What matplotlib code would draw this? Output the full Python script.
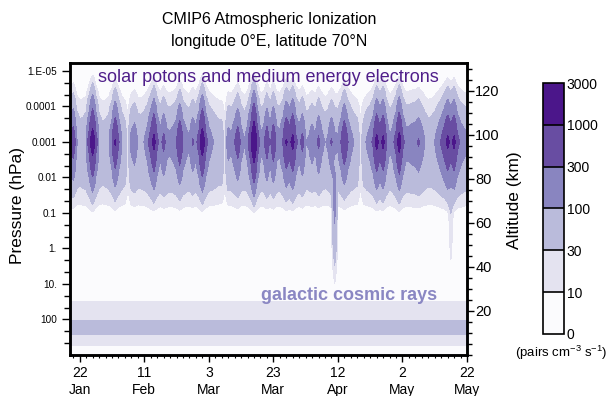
import matplotlib
matplotlib.use("Agg")
import matplotlib.pyplot as plt
import numpy as np
from matplotlib.ticker import FixedLocator, MultipleLocator

plt.rcParams["font.family"] = ["Liberation Sans", "DejaVu Sans"]

# ---- data -----------------------------------------------------------------
# day of year 19 (19 Jan) .. 142 (22 May)
days = np.arange(19, 143)

# daily peak rate of the solar-particle layer (pairs cm-3 s-1, near 0.001 hPa)
solar_peak = [
    300, 600, 80, 20, 20, 50, 500, 2000, 450, 50,         # 19-28
    10, 15, 40, 250, 1100, 300, 60, 15, 0, 120,           # 29-38
    200, 50, 30, 60, 150, 500, 1400, 350, 120, 400,       # 39-48
    120, 100, 150, 250, 900, 250, 120, 80, 300, 150,      # 49-58
    500, 2000, 450, 150, 80, 40, 20, 15, 0, 150,          # 59-68
    100, 250, 600, 150, 60, 150, 700, 3000, 600, 100,     # 69-78
    150, 600, 150, 700, 150, 120, 300, 1100, 600, 1400,   # 79-88
    350, 150, 400, 60, 80, 180, 70, 350, 120, 50,         # 89-98
    90, 300, 100, 90, 280, 900, 280, 120, 50, 25,         # 99-108
    0, 20, 80, 150, 350, 1400, 600, 1300, 300, 80,        # 109-118
    150, 450, 1600, 400, 150, 150, 180, 200, 300, 150,    # 119-128
    50, 20, 30, 60, 150, 300, 600, 1300, 700, 1300,       # 129-138
    400, 200, 130, 100,                                   # 139-142
]

# daily scaling of the medium-energy electron background
electron_scale = [
    1.0, 1.05, 0.95, 0.9, 1.0, 1.05, 1.1, 1.1, 1.0, 0.95,
    0.9, 0.95, 1.0, 1.05, 1.1, 1.05, 1.0, 0.9, 0.35, 0.95,
    1.0, 0.95, 1.0, 1.05, 1.1, 1.15, 1.15, 1.1, 1.1, 1.1,
    1.15, 1.1, 1.1, 1.15, 1.15, 1.1, 1.1, 1.05, 1.05, 1.0,
    1.05, 1.1, 1.05, 1.0, 1.0, 0.95, 0.9, 0.9, 0.35, 0.95,
    1.0, 1.05, 1.05, 1.0, 1.0, 1.05, 1.1, 1.2, 1.1, 1.05,
    1.05, 1.1, 1.05, 1.1, 1.05, 1.05, 1.1, 1.15, 1.1, 1.15,
    1.1, 1.05, 1.1, 1.0, 1.0, 1.05, 1.0, 1.05, 1.0, 0.95,
    1.0, 1.05, 1.1, 1.0, 1.05, 1.1, 1.05, 1.0, 0.95, 0.9,
    0.35, 0.9, 1.0, 1.05, 1.1, 1.15, 1.1, 1.15, 1.05, 1.0,
    1.05, 1.1, 1.15, 1.1, 1.05, 1.05, 1.1, 1.1, 1.1, 1.05,
    1.0, 0.95, 0.95, 1.0, 1.05, 1.1, 1.15, 1.2, 1.15, 1.2,
    1.1, 1.1, 1.05, 1.0,
]

# hard-spectrum events reaching the stratosphere
hard_days = [101, 137]
hard_rate = [130, 30]

# vertical levels, log10(pressure / hPa)
log_p = [-5.4, -5.2, -5.0, -4.8, -4.6, -4.4, -4.2, -4.0, -3.8, -3.6, -3.4, -3.2,
         -3.0, -2.8, -2.6, -2.4, -2.2, -2.0, -1.8, -1.6, -1.4, -1.2, -1.0, -0.8,
         -0.5, 0.0, 0.5, 0.9, 1.2, 1.4, 1.5, 1.7, 1.9, 2.05, 2.2, 2.3, 2.4,
         2.55, 2.7, 2.85, 3.0]
solar_profile = [0, 0, .002, .007, .018, .038, .07, .12, .19, .3, .47, .7,
                 1.0, .7, .47, .3, .19, .12, .07, .038, .018, .007, .002, 0,
                 0, 0, 0, 0, 0, 0, 0, 0, 0, 0, 0, 0, 0, 0, 0, 0, 0]
electron_profile = [0, 0, 0, 1, 2, 5, 9, 15, 22, 29, 35, 39,
                    42, 44, 45, 45, 44, 40, 33, 24, 15, 9, 2, 0,
                    0, 0, 0, 0, 0, 0, 0, 0, 0, 0, 0, 0, 0, 0, 0, 0, 0]
hard_profile = [0, 0, 0, 0, 0, 0, 0, 0, 0, 0, 0, 0,
                0, 0, 0, 0, .25, .5, .7, .9, 1.0, 1.0, .9, .8,
                .68, .45, .22, .09, .02, 0, 0, 0, 0, 0, 0, 0, 0, 0, 0, 0, 0]
gcr_profile = [0] * 28 + [0, 6, 11, 17, 24, 31, 40, 42, 31, 22, 11, 4, 2]

levels = [0, 10, 30, 100, 300, 1000, 3000]
colors = ["#fbfbfd", "#e4e3f0", "#babbdb", "#8985c0", "#684da2", "#4b168a"]

xtick_days = [22, 42, 62, 82, 102, 122, 142]
xtick_labels = ["22\nJan", "11\nFeb", "3\nMar", "23\nMar", "12\nApr", "2\nMay", "22\nMay"]
ptick_vals = [1e-5, 1e-4, 1e-3, 1e-2, 1e-1, 1, 10, 100]
ptick_labels = ["1.E-05", "0.0001", "0.001", "0.01", "0.1", "1.", "10.", "100"]

# ---- build field -----------------------------------------------------------
plev = 10.0 ** np.array(log_p)
hard = np.zeros(len(days))
hard[np.array(hard_days) - days[0]] = hard_rate
field = (np.outer(solar_peak, solar_profile)
         + np.outer(electron_scale, electron_profile)
         + np.outer(hard, hard_profile)
         + np.array(gcr_profile)[None, :])
field = np.clip(field, 0, 2990)

fig = plt.figure(figsize=(6.10, 3.96), dpi=100)
ax = fig.add_axes([0.1148, 0.1035, 0.6508, 0.7374])
cf = ax.contourf(days, plev, field.T, levels=levels, colors=colors)

ax.set_yscale("log")
ax.set_ylim(1000, 6e-6)
ax.set_xlim(19, 142)
ax.yaxis.set_major_locator(FixedLocator(ptick_vals))
ax.set_yticklabels(ptick_labels)
minor = [d * f for d in [1e-6, 1e-5, 1e-4, 1e-3, 1e-2, 1e-1, 1, 10, 100]
         for f in (10 ** (1 / 3), 10 ** (2 / 3))]
ax.yaxis.set_minor_locator(FixedLocator(minor))
ax.yaxis.set_minor_formatter(plt.NullFormatter())
ax.set_xticks(xtick_days)
ax.set_xticklabels(xtick_labels, fontsize=10, linespacing=1.25)
ax.xaxis.set_minor_locator(MultipleLocator(2))
ax.tick_params(axis="y", which="major", labelsize=7.2, length=6, width=1, direction="out")
ax.tick_params(axis="y", which="minor", length=4, width=1, direction="out")
ax.tick_params(axis="x", which="major", length=5, width=1, direction="out", pad=3)
ax.tick_params(axis="x", which="minor", length=2.5, width=0.8, direction="out")
for s in ax.spines.values():
    s.set_linewidth(1.8)

ax2 = ax.twinx()
ax2.set_ylim(0, 132.5)
ax2.set_yticks([20, 40, 60, 80, 100, 120])
ax2.yaxis.set_minor_locator(MultipleLocator(5))
ax2.tick_params(axis="y", which="major", labelsize=10.5, length=5, width=1, pad=1)
ax2.tick_params(axis="y", which="minor", length=3.5, width=1)
for s in ax2.spines.values():
    s.set_linewidth(1.8)

ax.text(0.5, 0.952, "solar potons and medium energy electrons", transform=ax.transAxes,
        ha="center", va="center", fontsize=13, color="#4f1e8a")
ax.text(0.704, 0.205, "galactic cosmic rays", transform=ax.transAxes,
        ha="center", va="center", fontsize=13, fontweight="bold", color="#8a87c3")

fig.text(0.441, 0.9495, "CMIP6 Atmospheric Ionization", ha="center", va="center", fontsize=11.5)
fig.text(0.441, 0.894, "longitude 0°E, latitude 70°N", ha="center", va="center", fontsize=11.5)
fig.text(0.028, 0.48, "Pressure (hPa)", rotation=90, ha="center", va="center", fontsize=12.5)
fig.text(0.843, 0.495, "Altitude (km)", rotation=90, ha="center", va="center", fontsize=12.5)

cax = fig.add_axes([0.8902, 0.1566, 0.0344, 0.6338])
cb = fig.colorbar(cf, cax=cax, drawedges=True)
cb.set_ticks(levels)
cb.set_ticklabels([str(v) for v in levels])
cb.ax.tick_params(length=0, labelsize=10, pad=2)
cb.outline.set_linewidth(1.2)
cb.dividers.set_linewidth(1.2)
cb.dividers.set_color("black")
fig.text(0.92, 0.108, r"(pairs cm$^{\mathregular{-3}}$ s$^{\mathregular{-1}}$)",
         ha="center", va="center", fontsize=9.5)

fig.savefig("out.png", dpi=100)
